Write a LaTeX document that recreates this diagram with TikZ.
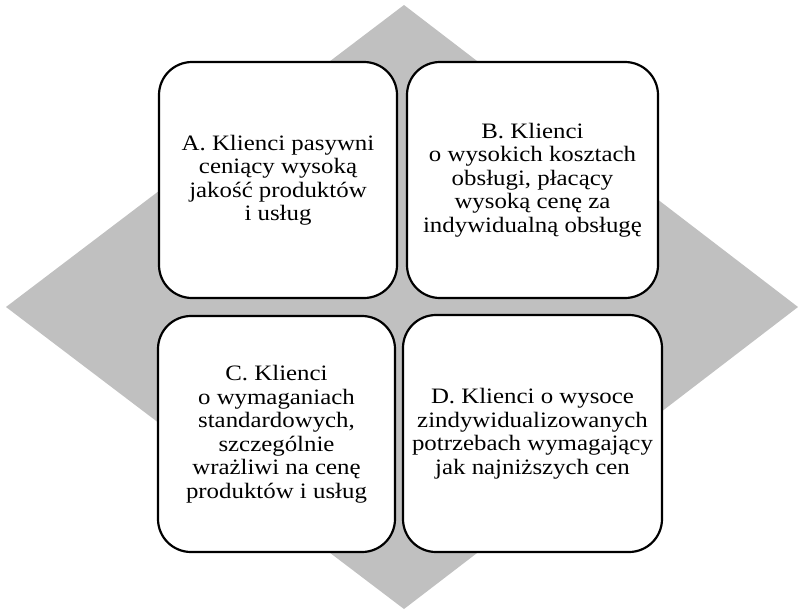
\documentclass[tikz,border=0pt]{standalone}
\usepackage{fontspec}
\setmainfont{Liberation Serif}[FakeStretch=1.13]
\begin{document}
\begin{tikzpicture}[x=1pt,y=-1pt,
  quad/.style={draw=black,line width=2.2pt,fill=white,rounded corners=33pt,
    align=center,inner sep=0pt,
    font=\fontsize{22}{23.5}\selectfont},
]
\useasboundingbox (0,0) rectangle (798,611);
\fill[fill={rgb,255:red,192;green,192;blue,192}] (404,5) -- (798,307) -- (404,609) -- (6,307) -- cycle;
\node[quad,minimum width=238pt,minimum height=236pt] (a) at (278,180)
  {A. Klienci pasywni\\ceniący wysoką\\jakość produktów\\i usług};
\node[quad,minimum width=251pt,minimum height=236pt] (b) at (532.5,180)
  {B. Klienci\\o wysokich kosztach\\obsługi, płacący\\wysoką cenę za\\indywidualną obsługę};
\node[quad,minimum width=237pt,minimum height=236pt] (c) at (276.5,434)
  {C. Klienci\\o wymaganiach\\standardowych,\\szczególnie\\wrażliwi na cenę\\produktów i usług};
\node[quad,minimum width=259pt,minimum height=237pt] (d) at (532.5,433.5)
  {D. Klienci o wysoce\\zindywidualizowanych\\potrzebach wymagający\\jak najniższych cen};
\end{tikzpicture}
\end{document}
